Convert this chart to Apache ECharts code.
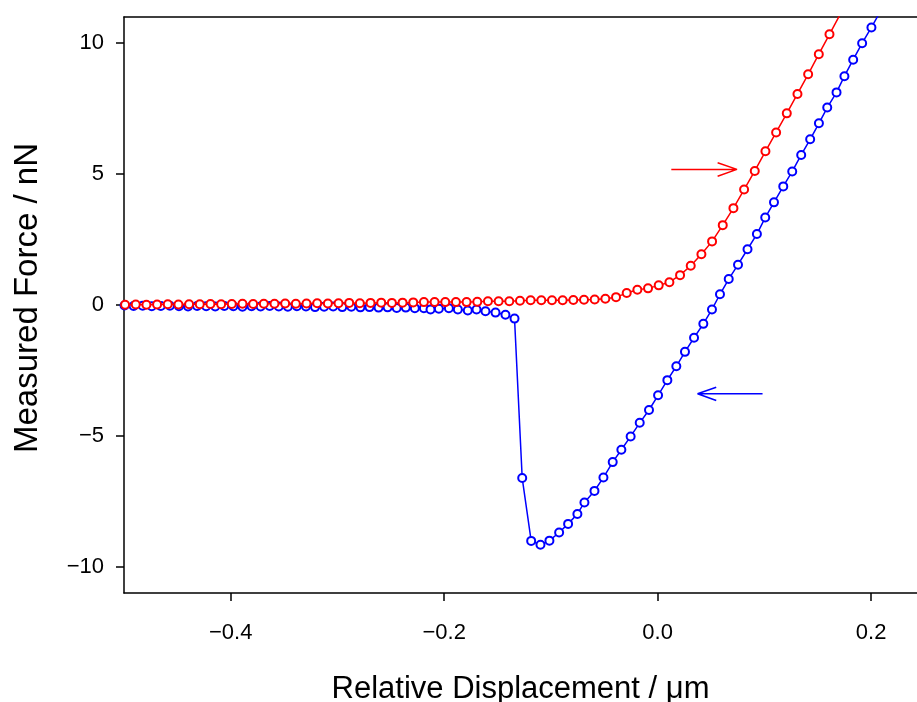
<!DOCTYPE html>
<html>
<head>
<meta charset="utf-8">
<script src="https://cdn.jsdelivr.net/npm/echarts@6/dist/echarts.min.js"></script>
<style>
html,body{margin:0;padding:0;background:#fff;}
#chart{width:917px;height:702px;}
</style>
</head>
<body>
<div id="chart"></div>
<script>
// ---- Data ----
// Approach curve (red)
var approachX = [
 -0.499,-0.489,-0.479,-0.469,-0.459,-0.449,-0.439,-0.429,-0.419,-0.409,
 -0.399,-0.389,-0.379,-0.369,-0.359,-0.349,-0.339,-0.329,-0.319,-0.309,
 -0.299,-0.289,-0.279,-0.269,-0.259,-0.249,-0.239,-0.229,-0.219,-0.209,
 -0.199,-0.189,-0.179,-0.169,-0.159,-0.149,-0.139,-0.129,-0.119,-0.109,
 -0.099,-0.089,-0.079,-0.069,-0.059,-0.049,-0.039,-0.029,-0.019,-0.009,
 0.001,0.011,0.021,0.031,0.041,0.051,0.061,0.071,0.081,0.091,
 0.101,0.111,0.121,0.131,0.141,0.151,0.161,0.171
];
var approachY = [
 0.01,0.02,0.01,0.02,0.03,0.02,0.03,0.03,0.04,0.03,
 0.04,0.05,0.04,0.05,0.05,0.06,0.05,0.06,0.07,0.06,
 0.07,0.08,0.07,0.08,0.09,0.08,0.09,0.10,0.11,0.11,
 0.11,0.11,0.11,0.12,0.14,0.14,0.14,0.16,0.18,0.18,
 0.18,0.18,0.19,0.20,0.21,0.24,0.30,0.455,0.585,0.635,
 0.75,0.87,1.14,1.50,1.94,2.43,3.05,3.70,4.41,5.12,
 5.87,6.59,7.32,8.06,8.81,9.58,10.34,11.10
];
// Retract curve (blue)
var retractX = [
 -0.4995,-0.4910,-0.4825,-0.4740,-0.4655,-0.4570,-0.4485,-0.4400,-0.4315,-0.4230,
 -0.4145,-0.4060,-0.3975,-0.3890,-0.3805,-0.3720,-0.3635,-0.3550,-0.3465,-0.3380,
 -0.3295,-0.3210,-0.3125,-0.3040,-0.2955,-0.2870,-0.2785,-0.2700,-0.2615,-0.2530,
 -0.2445,-0.2360,-0.2275,-0.2190,-0.2128,-0.2050,-0.1956,-0.1872,-0.1779,-0.1697,
 -0.1613,-0.1519,-0.1426,-0.1341,-0.1269,-0.1185,-0.1098,-0.1014,-0.0923,-0.0839,
 -0.0752,-0.0686,-0.0592,-0.0508,-0.0421,-0.0340,-0.0253,-0.0168,-0.0081,0.0004,
 0.0091,0.0175,0.0256,0.0341,0.0428,0.0509,0.0584,0.0666,0.0753,0.0842,
 0.0930,0.1008,0.1090,0.1177,0.1261,0.1345,0.1429,0.1511,0.1589,0.1676,
 0.1750,0.1832,0.1916,0.2003,0.2085
];
var retractY = [
 -0.02,-0.04,-0.03,-0.05,-0.04,-0.03,-0.05,-0.06,-0.04,-0.05,
 -0.06,-0.04,-0.05,-0.07,-0.05,-0.06,-0.04,-0.06,-0.07,-0.05,
 -0.06,-0.08,-0.07,-0.06,-0.08,-0.07,-0.09,-0.08,-0.10,-0.09,
 -0.11,-0.10,-0.12,-0.12,-0.17,-0.14,-0.12,-0.17,-0.21,-0.17,
 -0.24,-0.29,-0.37,-0.52,-6.61,-9.01,-9.16,-9.00,-8.69,-8.36,
 -7.98,-7.54,-7.10,-6.59,-6.00,-5.53,-5.02,-4.50,-4.01,-3.45,
 -2.87,-2.34,-1.79,-1.25,-0.72,-0.17,0.41,0.99,1.54,2.13,
 2.71,3.34,3.92,4.53,5.10,5.73,6.33,6.94,7.54,8.12,
 8.74,9.37,10.00,10.60,11.20
];
// Direction arrows (data coordinates): tail, tip, head corner 1, tip, head corner 2
var approachArrowX = [0.0128, 0.0743, 0.0562, 0.0743, 0.0562];
var approachArrowY = [5.18, 5.18, 5.43, 5.18, 4.92];
var retractArrowX = [0.0983, 0.0374, 0.0549, 0.0374, 0.0549];
var retractArrowY = [-3.39, -3.39, -3.14, -3.39, -3.65];

// Axes
var xMin = -0.5, xMax = 0.243;
var yMin = -11, yMax = 11;
var yTicks = [-10, -5, 0, 5, 10];
var xTicks = [-0.4, -0.2, 0.0, 0.2];
var xTitle = 'Relative Displacement / \u03bcm';
var yTitle = 'Measured Force / nN';

function zip(xs, ys) { return xs.map(function (x, i) { return [x, ys[i]]; }); }
function fmtMinus(s) { return s.replace('-', '\u2212'); }

var FONT = '"Liberation Sans", Arial, sans-serif';
var chart = echarts.init(document.getElementById('chart'), null, { renderer: 'canvas' });

var axisLine = { show: true, onZero: false, lineStyle: { color: '#000', width: 1.5 } };
chart.setOption({
  animation: false,
  backgroundColor: '#fff',
  grid: { left: 124, right: 0, top: 17, bottom: 109, containLabel: false, outerBoundsMode: 'none' },
  xAxis: [{
    type: 'value', min: xMin, max: xMax,
    axisLine: axisLine,
    axisTick: { show: true, inside: false, length: 8, lineStyle: { color: '#000', width: 1.5 },
                customValues: xTicks },
    axisLabel: { show: true, margin: 29, color: '#000', fontSize: 22, fontFamily: FONT,
                 customValues: xTicks,
                 formatter: function (v) { return fmtMinus(v.toFixed(1)); } },
    splitLine: { show: false },
    name: xTitle, nameLocation: 'middle', nameGap: 81,
    nameTextStyle: { color: '#000', fontSize: 31, fontFamily: FONT }
  }, {
    type: 'value', position: 'top', min: xMin, max: xMax,
    axisLine: axisLine, axisTick: { show: false }, axisLabel: { show: false }, splitLine: { show: false }
  }],
  yAxis: [{
    type: 'value', min: yMin, max: yMax,
    axisLine: axisLine,
    axisTick: { show: true, inside: false, length: 8, lineStyle: { color: '#000', width: 1.5 },
                customValues: yTicks },
    axisLabel: { show: true, margin: 20, color: '#000', fontSize: 22, fontFamily: FONT,
                 customValues: yTicks,
                 formatter: function (v) { return fmtMinus(String(v)); } },
    splitLine: { show: false },
    name: yTitle, nameLocation: 'middle', nameGap: 80, nameRotate: 90,
    nameTextStyle: { color: '#000', fontSize: 33, fontFamily: FONT, padding: [0, 0, 0, 14] }
  }],
  series: [
    {
      name: 'retract', type: 'line', data: zip(retractX, retractY),
      symbol: 'emptyCircle', symbolSize: 8, showAllSymbol: true,
      lineStyle: { color: '#0000ff', width: 1.5 },
      itemStyle: { color: '#0000ff', borderColor: '#0000ff', borderWidth: 1.5 },
      clip: true, z: 2
    },
    {
      name: 'approach', type: 'line', data: zip(approachX, approachY),
      symbol: 'emptyCircle', symbolSize: 8, showAllSymbol: true,
      lineStyle: { color: '#ff0000', width: 1.5 },
      itemStyle: { color: '#ff0000', borderColor: '#ff0000', borderWidth: 1.5 },
      clip: true, z: 3
    },
    {
      name: 'approachArrow', type: 'line', data: zip(approachArrowX, approachArrowY),
      showSymbol: false, symbol: 'none', lineStyle: { color: '#ff0000', width: 1.5 }, z: 4
    },
    {
      name: 'retractArrow', type: 'line', data: zip(retractArrowX, retractArrowY),
      showSymbol: false, symbol: 'none', lineStyle: { color: '#0000ff', width: 1.5 }, z: 4
    }
  ]
});
</script>
</body>
</html>
